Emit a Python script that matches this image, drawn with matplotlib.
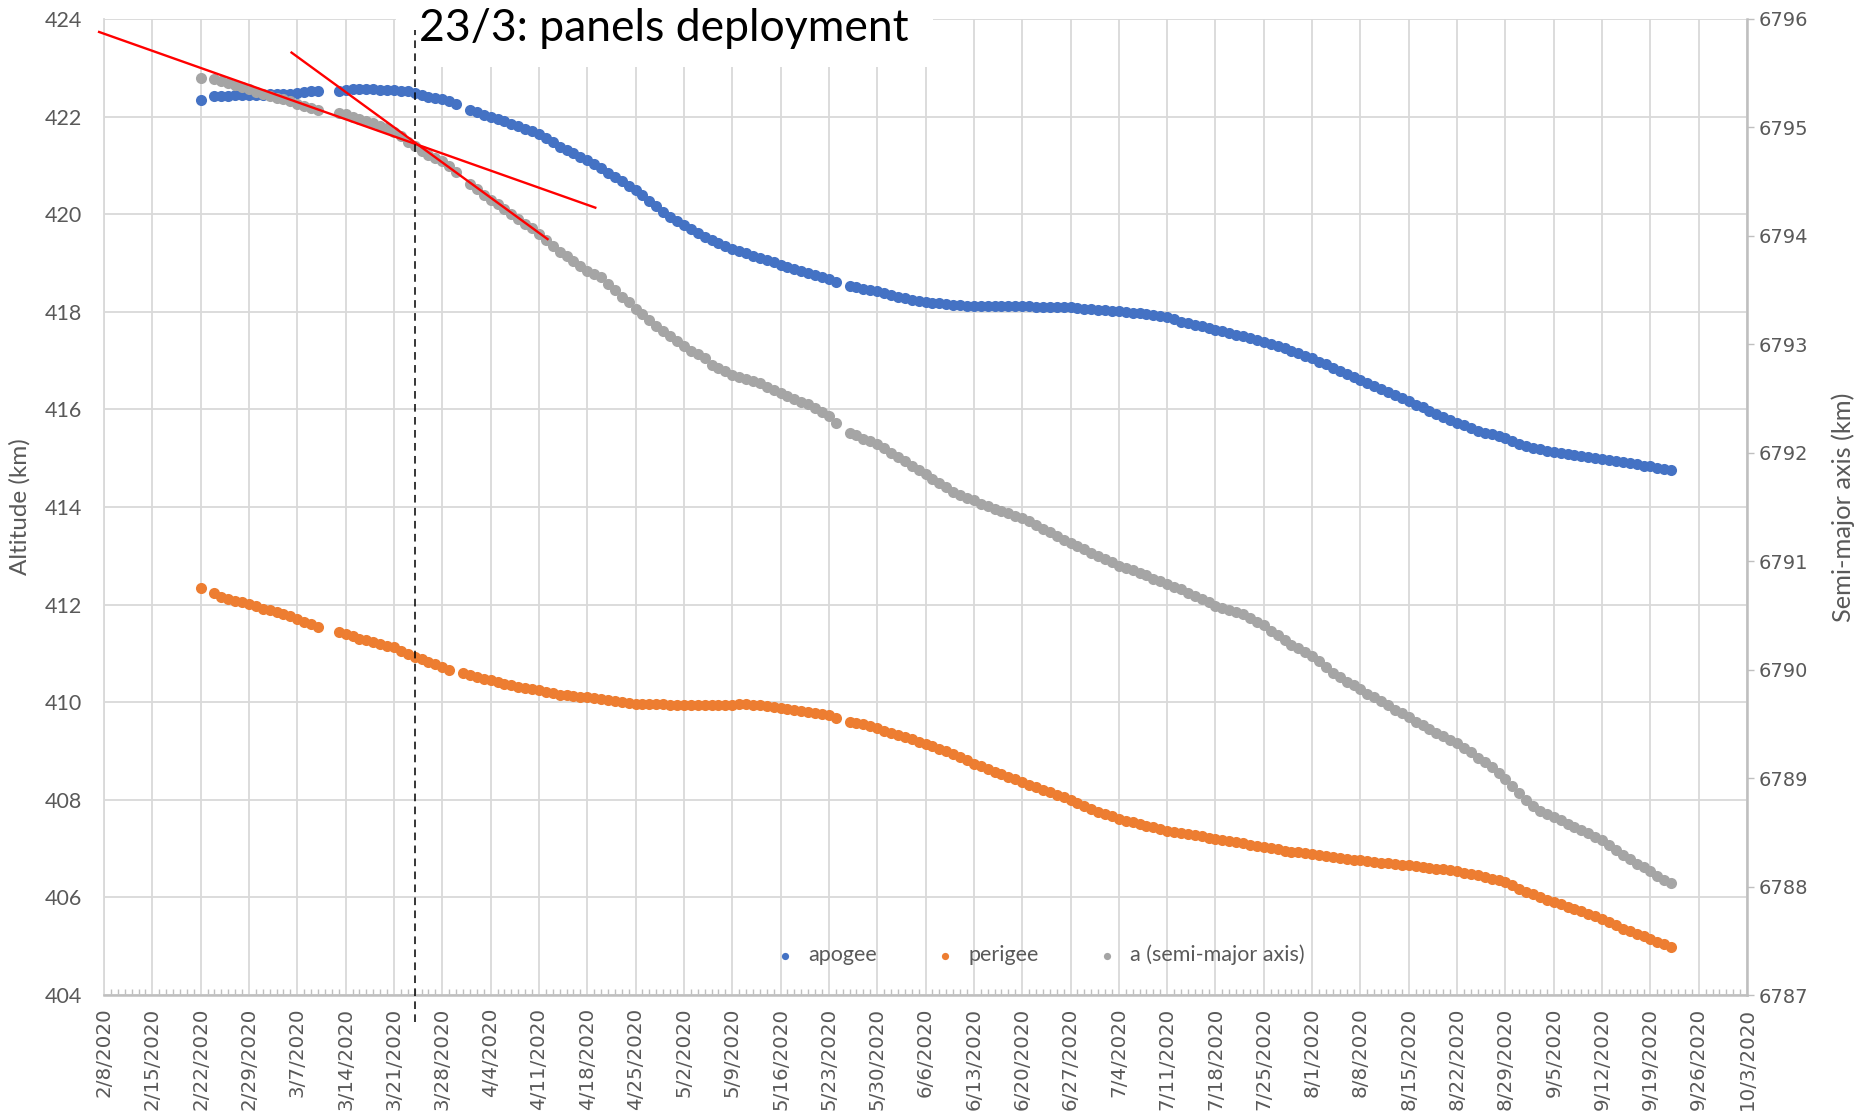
import numpy as np
import pandas as pd
import matplotlib
matplotlib.use('Agg')
import matplotlib.pyplot as plt
import matplotlib.dates as mdates
from matplotlib.patches import Rectangle

nan = np.nan

# one value per day, 22 Feb .. 22 Sep 2020 (nan = no data that day)
dates = pd.date_range('2020-02-22', '2020-09-22', freq='D')

# apogee altitude (km)
apogee_feb = [422.33, nan, 422.42, 422.43, 422.43, 422.44, 422.44, 422.44]
apogee_mar = [422.45, 422.45, 422.46, 422.46, 422.47, 422.47, 422.48, 422.50, 422.52, 422.53,
              nan, nan, 422.53, 422.54, 422.56, 422.57, 422.56, 422.56, 422.55, 422.55,
              422.54, 422.53, 422.52, 422.49, 422.45, 422.41, 422.39, 422.36, 422.31, 422.25, nan]
apogee_apr = [422.14, 422.09, 422.04, 421.99, 421.94, 421.90, 421.85, 421.80, 421.75, 421.70,
              421.64, 421.56, 421.47, 421.38, 421.31, 421.25, 421.18, 421.11, 421.03, 420.94,
              420.85, 420.76, 420.67, 420.58, 420.50, 420.39, 420.27, 420.16, 420.05, 419.95]
apogee_may = [419.86, 419.78, 419.69, 419.61, 419.53, 419.47, 419.41, 419.34, 419.28, 419.24,
              419.20, 419.15, 419.11, 419.06, 419.01, 418.96, 418.92, 418.88, 418.83, 418.79,
              418.75, 418.71, 418.67, 418.60, nan, 418.52, 418.50, 418.47, 418.45, 418.42, 418.38]
apogee_jun = [418.35, 418.31, 418.28, 418.25, 418.23, 418.21, 418.19, 418.17, 418.15, 418.14,
              418.13, 418.12, 418.11, 418.11, 418.11, 418.11, 418.11, 418.11, 418.11, 418.11,
              418.11, 418.10, 418.10, 418.10, 418.10, 418.09, 418.09, 418.08, 418.06, 418.05]
apogee_jul = [418.04, 418.03, 418.02, 418.01, 418.00, 417.98, 417.97, 417.95, 417.93, 417.92,
              417.90, 417.85, 417.80, 417.76, 417.73, 417.70, 417.66, 417.63, 417.60, 417.57,
              417.53, 417.50, 417.46, 417.43, 417.39, 417.34, 417.30, 417.25, 417.20, 417.15, 417.10]
apogee_aug = [417.05, 416.98, 416.92, 416.85, 416.79, 416.73, 416.67, 416.61, 416.54, 416.48,
              416.41, 416.35, 416.29, 416.23, 416.17, 416.10, 416.04, 415.97, 415.91, 415.85,
              415.79, 415.73, 415.67, 415.62, 415.56, 415.52, 415.49, 415.45, 415.42, 415.36, 415.30]
apogee_sep = [415.25, 415.21, 415.18, 415.15, 415.12, 415.10, 415.08, 415.07, 415.05, 415.03,
              415.01, 414.99, 414.97, 414.94, 414.92, 414.90, 414.88, 414.85, 414.83, 414.80,
              414.77, 414.75]

# perigee altitude (km)
perigee_feb = [412.34, nan, 412.24, 412.15, 412.12, 412.08, 412.05, 412.01]
perigee_mar = [411.97, 411.92, 411.88, 411.84, 411.80, 411.76, 411.71, 411.65, 411.60, 411.54,
               nan, nan, 411.44, 411.40, 411.35, 411.30, 411.27, 411.23, 411.20, 411.16,
               411.13, 411.05, 410.98, 410.93, 410.88, 410.83, 410.78, 410.72, 410.67, nan, 410.59]
perigee_apr = [410.55, 410.52, 410.48, 410.45, 410.42, 410.38, 410.35, 410.32, 410.30, 410.27,
               410.25, 410.21, 410.18, 410.15, 410.14, 410.12, 410.11, 410.10, 410.08, 410.07,
               410.05, 410.03, 410.01, 409.99, 409.97, 409.97, 409.96, 409.96, 409.96, 409.95]
perigee_may = [409.95, 409.95, 409.95, 409.94, 409.94, 409.94, 409.95, 409.95, 409.95, 409.96,
               409.97, 409.95, 409.94, 409.92, 409.91, 409.89, 409.87, 409.85, 409.82, 409.80,
               409.78, 409.75, 409.73, 409.67, nan, 409.60, 409.58, 409.55, 409.52, 409.47, 409.42]
perigee_jun = [409.37, 409.32, 409.28, 409.24, 409.19, 409.15, 409.10, 409.05, 408.99, 408.94,
               408.87, 408.81, 408.74, 408.69, 408.64, 408.58, 408.53, 408.47, 408.42, 408.36,
               408.31, 408.26, 408.21, 408.16, 408.10, 408.05, 407.99, 407.93, 407.87, 407.81]
perigee_jul = [407.75, 407.70, 407.66, 407.61, 407.57, 407.54, 407.50, 407.47, 407.44, 407.40,
               407.37, 407.35, 407.32, 407.30, 407.27, 407.25, 407.22, 407.20, 407.18, 407.15,
               407.13, 407.11, 407.08, 407.06, 407.04, 407.01, 406.99, 406.96, 406.94, 406.93, 406.91]
perigee_aug = [406.89, 406.87, 406.84, 406.82, 406.80, 406.79, 406.77, 406.76, 406.74, 406.73,
               406.71, 406.70, 406.69, 406.67, 406.66, 406.64, 406.63, 406.61, 406.59, 406.58,
               406.56, 406.54, 406.51, 406.48, 406.45, 406.42, 406.38, 406.35, 406.31, 406.25, 406.18]
perigee_sep = [406.11, 406.06, 406.01, 405.95, 405.90, 405.86, 405.81, 405.77, 405.72, 405.67,
               405.61, 405.56, 405.49, 405.43, 405.36, 405.31, 405.26, 405.20, 405.15, 405.09,
               405.04, 404.98]

# semi-major axis (km)
sma_feb = [6795.46, nan, 6795.45, 6795.43, 6795.41, 6795.39, 6795.37, 6795.35]
sma_mar = [6795.33, 6795.31, 6795.29, 6795.27, 6795.26, 6795.24, 6795.22, 6795.20, 6795.18, 6795.16,
           nan, nan, 6795.13, 6795.12, 6795.10, 6795.08, 6795.06, 6795.04, 6795.01, 6794.99,
           6794.96, 6794.92, 6794.87, 6794.83, 6794.78, 6794.75, 6794.72, 6794.69, 6794.64, 6794.59, nan]
sma_apr = [6794.48, 6794.43, 6794.38, 6794.33, 6794.29, 6794.25, 6794.20, 6794.16, 6794.11, 6794.07,
           6794.02, 6793.96, 6793.91, 6793.85, 6793.81, 6793.77, 6793.72, 6793.68, 6793.65, 6793.62,
           6793.56, 6793.50, 6793.44, 6793.39, 6793.33, 6793.28, 6793.22, 6793.17, 6793.12, 6793.08]
sma_may = [6793.03, 6792.98, 6792.94, 6792.91, 6792.87, 6792.81, 6792.78, 6792.75, 6792.72, 6792.70,
           6792.68, 6792.66, 6792.64, 6792.61, 6792.58, 6792.55, 6792.52, 6792.50, 6792.47, 6792.45,
           6792.41, 6792.38, 6792.34, 6792.27, nan, 6792.18, 6792.16, 6792.13, 6792.11, 6792.08, 6792.04]
sma_jun = [6792.00, 6791.96, 6791.92, 6791.88, 6791.84, 6791.80, 6791.76, 6791.72, 6791.68, 6791.64,
           6791.61, 6791.58, 6791.56, 6791.53, 6791.51, 6791.48, 6791.46, 6791.44, 6791.42, 6791.40,
           6791.37, 6791.33, 6791.30, 6791.27, 6791.23, 6791.20, 6791.17, 6791.14, 6791.11, 6791.08]
sma_jul = [6791.05, 6791.02, 6790.99, 6790.96, 6790.94, 6790.92, 6790.89, 6790.87, 6790.84, 6790.82,
           6790.79, 6790.76, 6790.74, 6790.71, 6790.68, 6790.65, 6790.62, 6790.59, 6790.57, 6790.55,
           6790.53, 6790.51, 6790.48, 6790.44, 6790.41, 6790.36, 6790.32, 6790.27, 6790.23, 6790.20, 6790.16]
sma_aug = [6790.13, 6790.08, 6790.02, 6789.97, 6789.93, 6789.89, 6789.86, 6789.82, 6789.78, 6789.75,
           6789.71, 6789.67, 6789.63, 6789.60, 6789.56, 6789.52, 6789.49, 6789.45, 6789.42, 6789.39,
           6789.35, 6789.32, 6789.28, 6789.24, 6789.19, 6789.15, 6789.10, 6789.05, 6788.99, 6788.93, 6788.86]
sma_sep = [6788.80, 6788.74, 6788.70, 6788.67, 6788.64, 6788.61, 6788.58, 6788.55, 6788.52, 6788.49,
           6788.46, 6788.43, 6788.38, 6788.34, 6788.29, 6788.25, 6788.21, 6788.18, 6788.14, 6788.10,
           6788.06, 6788.03]

apogee = np.array(apogee_feb + apogee_mar + apogee_apr + apogee_may + apogee_jun + apogee_jul + apogee_aug + apogee_sep)
perigee = np.array(perigee_feb + perigee_mar + perigee_apr + perigee_may + perigee_jun + perigee_jul + perigee_aug + perigee_sep)
sma = np.array(sma_feb + sma_mar + sma_apr + sma_may + sma_jun + sma_jul + sma_aug + sma_sep)

# tangents to the semi-major axis curve before / after deployment
tangent_before_t = pd.to_datetime(['2020-02-07 07:00', '2020-04-19 04:00'])
tangent_before_a = [6795.88, 6794.26]
tangent_after_t = pd.to_datetime(['2020-03-06 04:00', '2020-04-12 06:00'])
tangent_after_a = [6795.69, 6793.97]
deploy_t = pd.Timestamp('2020-03-23 23:30')

week_ticks = pd.date_range('2020-02-08', '2020-10-03', freq='7D')
week_labels = [f'{d.month}/{d.day}/{d.year}' for d in week_ticks]

C_APO, C_PER, C_SMA = '#4472C4', '#ED7D31', '#A5A5A5'
TXT = '#595959'
GRID = '#D9D9D9'
AXLINE = '#BFBFBF'

fig = plt.figure(figsize=(18.57, 11.15), dpi=100)
ax = fig.add_axes([0.056, 0.1076, 0.8848, 0.8754])
ax2 = ax.twinx()

x = mdates.date2num(dates)
ms = 64
ax.scatter(x, apogee, s=ms, color=C_APO, linewidths=0, label='apogee', zorder=3)
ax.scatter(x, perigee, s=ms, color=C_PER, linewidths=0, label='perigee', zorder=3)
ax2.scatter(x, sma, s=ms, color=C_SMA, linewidths=0, label='a (semi-major axis)', zorder=3)

ax2.plot(mdates.date2num(tangent_before_t), tangent_before_a, color='red', lw=1.7, clip_on=False, zorder=4)
ax2.plot(mdates.date2num(tangent_after_t), tangent_after_a, color='red', lw=1.7, clip_on=False, zorder=4)

# deployment marker and its caption
ax2.add_patch(Rectangle((0.1777, 0.951), 0.327, 0.08, transform=ax2.transAxes,
                        facecolor='white', edgecolor='none', clip_on=False, zorder=5))
ax2.plot([mdates.date2num(deploy_t)] * 2, [-0.028, 0.989], transform=ax2.get_xaxis_transform(),
         color='black', lw=1.1, ls=(0, (5, 3.5)), clip_on=False, zorder=6)
ax2.text(0.1915, 0.990, '23/3: panels deployment', transform=ax2.transAxes, fontsize=32,
         family='Lato', color='black', ha='left', va='center', zorder=7)

ax.set_xlim(mdates.date2num(pd.Timestamp('2020-02-08')), mdates.date2num(pd.Timestamp('2020-10-03')))
ax.set_ylim(404, 424)
ax2.set_ylim(6787, 6796)
ax.set_yticks(np.arange(404, 425, 2))
ax2.set_yticks(np.arange(6787, 6797, 1))
ax.set_xticks(mdates.date2num(week_ticks))
ax.set_xticklabels(week_labels, rotation=90, family='DejaVu Sans', fontsize=14.3, color=TXT)
ax.xaxis.set_minor_locator(mdates.DayLocator())

ax.grid(True, which='major', color=GRID, lw=1.3)
ax.set_axisbelow(True)

for lab in ax.get_yticklabels():
    lab.set_family('Lato')
ax.tick_params(axis='y', length=0, pad=16, labelsize=15.5, labelcolor=TXT)
ax.tick_params(axis='x', which='major', length=0, pad=9)
ax.tick_params(axis='x', which='minor', direction='in', length=4, width=1, color=AXLINE)
ax2.tick_params(axis='y', length=5, width=1, color=AXLINE, pad=3, labelsize=14, labelcolor=TXT)

for s in ['top', 'right']:
    ax.spines[s].set_visible(False)
ax.spines['left'].set_color(GRID)
ax.spines['left'].set_linewidth(1.3)
ax.spines['bottom'].set_color(AXLINE)
ax.spines['bottom'].set_linewidth(1.8)
for s in ['top', 'left', 'bottom']:
    ax2.spines[s].set_visible(False)
ax2.spines['right'].set_color(AXLINE)
ax2.spines['right'].set_linewidth(1.8)

ax.set_ylabel('Altitude (km)', family='Lato', fontsize=17.5, color=TXT, labelpad=10)
ax2.set_ylabel('Semi-major axis (km)', family='Lato', fontsize=18.3, color=TXT, labelpad=17)

h1, l1 = ax.get_legend_handles_labels()
h2, l2 = ax2.get_legend_handles_labels()
leg = ax2.legend(h1 + h2, l1 + l2, loc='center', bbox_to_anchor=(0.566, 0.041), ncol=3,
                 frameon=False, markerscale=0.65, handletextpad=0.1, columnspacing=2.15,
                 prop={'family': 'Lato', 'size': 15.5}, labelcolor=TXT)

fig.savefig('out.png', dpi=100)
